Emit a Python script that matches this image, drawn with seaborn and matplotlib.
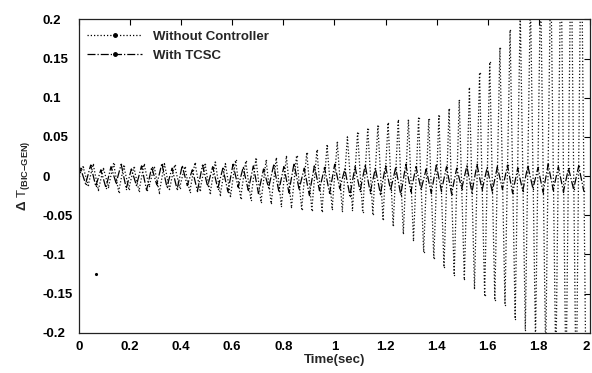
import numpy as np
import pandas as pd
import seaborn as sns
import matplotlib.pyplot as plt
from matplotlib.lines import Line2D

sns.set_style('white')
plt.rcParams['font.family'] = ['Liberation Sans', 'DejaVu Sans']
plt.rcParams['font.weight'] = 'bold'
plt.rcParams['mathtext.fontset'] = 'custom'
plt.rcParams['mathtext.rm'] = 'Liberation Sans:bold'
plt.rcParams['mathtext.it'] = 'Liberation Sans:bold'
plt.rcParams['mathtext.bf'] = 'Liberation Sans:bold'

# 데이터 (그림에서 읽은 피크 값, 반주기 간격)
half_period = 0.0199

# 제어기 없음: 상단 피크 / 하단 피크
nc_t0 = 0.016
nc_upper = [0.012, 0.015, 0.010, 0.016, 0.013, 0.011, 0.015, 0.012, 0.016, 0.014,
            0.012, 0.017, 0.015, 0.018, 0.016, 0.020, 0.019, 0.022, 0.020, 0.023,
            0.025, 0.026, 0.030, 0.033, 0.039, 0.043, 0.050, 0.055, 0.060, 0.064,
            0.068, 0.071, 0.072, 0.074, 0.073, 0.077, 0.086, 0.097, 0.113, 0.132,
            0.145, 0.164, 0.186, 0.21, 0.23, 0.25, 0.27, 0.29, 0.31, 0.33]
nc_lower = [-0.012, -0.018, -0.014, -0.020, -0.016, -0.019, -0.013, -0.021, -0.017, -0.015,
            -0.020, -0.018, -0.022, -0.024, -0.026, -0.028, -0.030, -0.033, -0.035, -0.038,
            -0.040, -0.042, -0.043, -0.044, -0.042, -0.044, -0.043, -0.046, -0.048, -0.055,
            -0.063, -0.073, -0.082, -0.097, -0.105, -0.116, -0.126, -0.132, -0.143, -0.152,
            -0.158, -0.164, -0.182, -0.196, -0.21, -0.23, -0.25, -0.27, -0.29, -0.31]

# TCSC 적용
tc_t0 = 0.006
tc_upper = [0.010, 0.014, 0.008, 0.012, 0.015, 0.009, 0.013, 0.011, 0.016, 0.010,
            0.013, 0.008, 0.014, 0.012, 0.010, 0.015, 0.011, 0.013, 0.009, 0.014,
            0.012, 0.016, 0.010, 0.013, 0.011, 0.015, 0.009, 0.012, 0.014, 0.010,
            0.013, 0.011, 0.015, 0.012, 0.009, 0.014, 0.012, 0.010, 0.013, 0.015,
            0.011, 0.012, 0.014, 0.010, 0.013, 0.011, 0.015, 0.012, 0.010, 0.013]
tc_lower = [-0.010, -0.013, -0.015, -0.009, -0.016, -0.012, -0.018, -0.011, -0.014, -0.017,
            -0.012, -0.019, -0.013, -0.016, -0.020, -0.014, -0.018, -0.022, -0.015, -0.019,
            -0.021, -0.017, -0.024, -0.018, -0.022, -0.016, -0.025, -0.019, -0.021, -0.023,
            -0.018, -0.024, -0.020, -0.017, -0.022, -0.019, -0.023, -0.016, -0.021, -0.018,
            -0.020, -0.017, -0.022, -0.019, -0.016, -0.021, -0.018, -0.020, -0.017, -0.019]

stray_t = [0.067]
stray_v = [-0.125]

x_ticks = [0, 0.2, 0.4, 0.6, 0.8, 1, 1.2, 1.4, 1.6, 1.8, 2]
x_labels = ['0', '0.2', '0.4', '0.6', '0.8', '1', '1.2', '1.4', '1.6', '1.8', '2']
y_ticks = [-0.2, -0.15, -0.1, -0.05, 0, 0.05, 0.1, 0.15, 0.2]
y_labels = ['-0.2', '-0.15', '-0.1', '-0.05', '0', '0.05', '0.1', '0.15', '0.2']


def zigzag(t0, upper, lower):
    vals = [0.0]
    for u, l in zip(upper, lower):
        vals += [u, l]
    t = np.concatenate([[0.0], t0 + np.arange(len(vals) - 1) * half_period])
    return pd.DataFrame({'t': t, 'v': vals})


nc = zigzag(nc_t0, nc_upper, nc_lower)
tc = zigzag(tc_t0, tc_upper, tc_lower)

fig = plt.figure(figsize=(5.92, 3.73), dpi=100)
ax = fig.add_axes([0.1334, 0.108, 0.863, 0.840])

sns.lineplot(data=nc, x='t', y='v', ax=ax, estimator=None, sort=False,
             color='#111111', linestyle=(0, (1, 1.6)), linewidth=0.9, marker='.',
             markersize=2, markeredgewidth=0)
sns.lineplot(data=tc, x='t', y='v', ax=ax, estimator=None, sort=False,
             color='black', linestyle='-.', linewidth=0.9, marker='.', markersize=2,
             markeredgewidth=0)
ax.plot(stray_t, stray_v, '.', color='black', markersize=2.5)

ax.set_xlim(0, 2)
ax.set_ylim(-0.2, 0.2)
ax.set_xticks(x_ticks)
ax.set_xticklabels(x_labels)
ax.set_yticks(y_ticks)
ax.set_yticklabels(y_labels)
ax.tick_params(direction='in', length=4, width=0.8, top=True, right=True,
               labelsize=9.5, colors='black')
ax.tick_params(axis='x', pad=6)
ax.tick_params(axis='y', pad=26)
for lbl in ax.get_yticklabels():
    lbl.set_horizontalalignment('left')
# 마지막 눈금 "2"는 그림 가장자리에 붙어 있으므로 오른쪽 정렬
ax.get_xticklabels()[-1].set_horizontalalignment('right')
for s in ax.spines.values():
    s.set_color('#222222')
    s.set_linewidth(0.9)

ax.set_xlabel('Time(sec)', fontsize=9.5, fontweight='bold', labelpad=1)
ax.set_ylabel(r'$\Delta$ T$_{(BIC{-}GEN)}$', fontsize=9.5, labelpad=8)

handles = [Line2D([], [], color='black', linestyle=(0, (1, 1.6)), linewidth=0.9,
                  marker='.', markersize=5),
           Line2D([], [], color='black', linestyle='-.', linewidth=0.9, marker='.', markersize=5)]
ax.legend(handles, ['Without Controller', 'With TCSC'], loc='upper left', frameon=False,
          fontsize=9.5, handlelength=4.2, borderaxespad=0.2, labelspacing=0.5,
          bbox_to_anchor=(0.0, 0.99))

fig.savefig('out.png', dpi=100)
